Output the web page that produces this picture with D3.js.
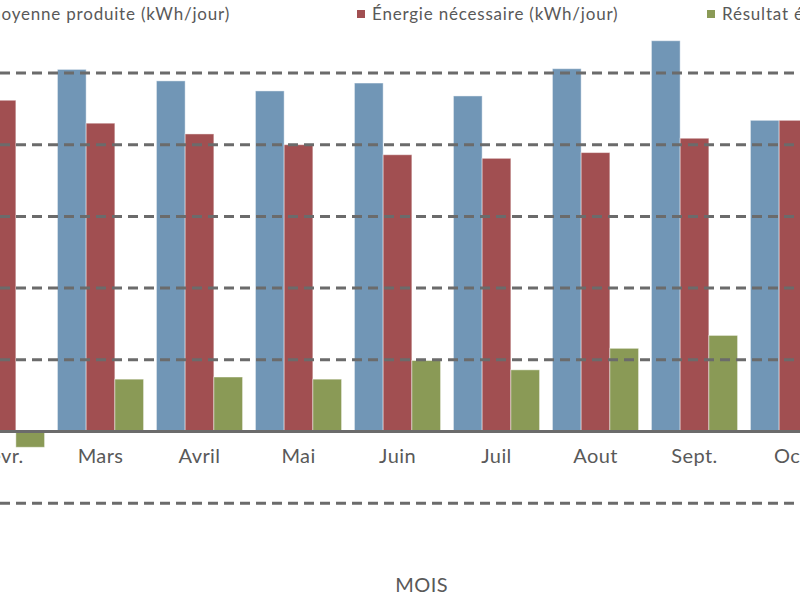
<!DOCTYPE html>
<html>
<head>
<meta charset="utf-8">
<script src="https://cdn.jsdelivr.net/npm/d3@7"></script>
<style>
  body { margin: 0; background: #fff; }
  text { font-family: Lato, "Open Sans", sans-serif; fill: #595959; }
</style>
</head>
<body>
<svg id="chart" width="800" height="600"></svg>
<script>
var months = ['Févr.', 'Mars', 'Avril', 'Mai', 'Juin', 'Juil', 'Aout', 'Sept.', 'Oct.'];
var produite = [4.40, 5.05, 4.89, 4.75, 4.86, 4.68, 5.06, 5.45, 4.34];
var necessaire = [4.62, 4.30, 4.15, 4.00, 3.86, 3.81, 3.89, 4.09, 4.34];
var resultat = [-0.22, 0.73, 0.76, 0.73, 0.99, 0.86, 1.16, 1.34, 0.00];
var seriesNames = ['Énergie moyenne produite (kWh/jour)', 'Énergie nécessaire (kWh/jour)', 'Résultat énergétique (kWh/jour)'];
var gridTicks = [-1, 1, 2, 3, 4, 5];

var colors = ['#7196b6', '#a14f51', '#8a9a56'];
var svg = d3.select('#chart');

// the plot is wider than the window, only Févr. .. Oct. is visible
var x = d3.scaleBand()
    .domain(months)
    .range([-48, 843])
    .paddingInner(0.13)
    .paddingOuter(0.065);
var xs = d3.scaleBand()
    .domain([0, 1, 2])
    .range([0, x.bandwidth()]);
var y = d3.scaleLinear()
    .domain([-1, 5])
    .range([503.2, 73]);

var rows = months.map(function (m, i) {
    return {month: m, values: [produite[i], necessaire[i], resultat[i]]};
});

// bars
var groups = svg.append('g').selectAll('g')
    .data(rows)
    .enter()
    .append('g')
    .attr('transform', function (d) { return 'translate(' + x(d.month) + ',0)'; });

groups.selectAll('rect')
    .data(function (d) { return d.values; })
    .enter()
    .append('rect')
    .attr('x', function (d, i) { return xs(i); })
    .attr('width', xs.bandwidth())
    .attr('y', function (d) { return y(Math.max(0, d)); })
    .attr('height', function (d) { return Math.abs(y(d) - y(0)); })
    .style('fill', function (d, i) { return colors[i]; })
    .style('stroke', 'rgba(255,255,255,0.45)')
    .style('stroke-width', 1);

// dashed gridlines drawn over the bars
svg.append('g').selectAll('line')
    .data(gridTicks)
    .enter()
    .append('line')
    .attr('x1', 0)
    .attr('x2', 800)
    .attr('y1', function (d) { return y(d); })
    .attr('y2', function (d) { return y(d); })
    .style('stroke', '#6b6b6b')
    .style('stroke-width', 3)
    .style('stroke-dasharray', '10,6');

// zero axis with month labels
var xAxis = svg.append('g')
    .attr('transform', 'translate(0,' + y(0) + ')')
    .call(d3.axisBottom(x).tickSize(0).tickPadding(17));
xAxis.select('.domain')
    .attr('d', 'M-48,0H843')
    .style('stroke', '#6b6b6b')
    .style('stroke-width', 3);
xAxis.selectAll('text')
    .style('font-size', '20px')
    .style('letter-spacing', '0.4px')
    .style('fill', '#595959')
    .style('font-family', 'Lato, "Open Sans", sans-serif');

svg.append('text')
    .attr('x', 421.7)
    .attr('y', 591.5)
    .attr('text-anchor', 'middle')
    .style('font-size', '20px')
    .style('letter-spacing', '0.5px')
    .text('MOIS');

// legend: first label ends at 230, the others start at 372 and 722
var legend = svg.append('g').selectAll('g')
    .data(seriesNames)
    .enter()
    .append('g');

legend.append('text')
    .attr('y', 20)
    .style('font-size', '17px')
    .style('letter-spacing', '0.8px')
    .text(function (d) { return d; });

legend.each(function (d, i) {
    var g = d3.select(this);
    var w = g.select('text').node().getComputedTextLength();
    var start = i === 0 ? 230 - w : (i === 1 ? 372 : 722);
    g.select('text').attr('x', start);
    g.insert('rect', 'text')
        .attr('x', start - 15)
        .attr('y', 10)
        .attr('width', 8)
        .attr('height', 8)
        .style('fill', colors[i]);
});
</script>
</body>
</html>
